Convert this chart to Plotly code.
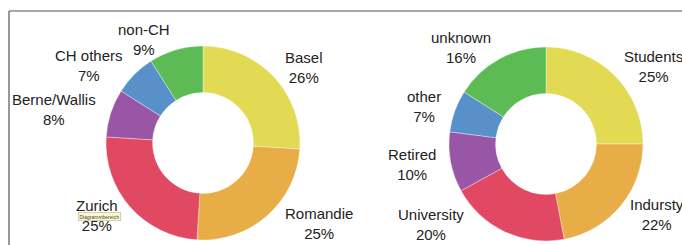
import math
import plotly.graph_objects as go

origin_labels = ["Basel", "Romandie", "Zurich", "Berne/Wallis", "CH others", "non-CH"]
origin_values = [26, 25, 25, 8, 7, 9]

occupation_labels = ["Students", "Indursty", "University", "Retired", "other", "unknown"]
occupation_values = [25, 22, 20, 10, 7, 16]

slice_colors = ["#E2DA52", "#E9AD48", "#E14862", "#9A56A6", "#5890CA", "#5CBB55"]

W, H = 682, 245
R = 97
FS = 15
FONT = "Liberation Sans, Arial, sans-serif"

# approximate Helvetica advance widths (per 1000 em) for estimating label widths
_CW = {"a": 556, "b": 556, "c": 500, "d": 556, "e": 556, "f": 278, "g": 556, "h": 556, "i": 222,
       "k": 500, "l": 222, "m": 833, "n": 556, "o": 556, "p": 556, "r": 333, "s": 500, "t": 278,
       "u": 556, "v": 500, "w": 722, "y": 500, "z": 500, "B": 667, "C": 722, "H": 722, "I": 278,
       "R": 722, "S": 667, "U": 722, "W": 944, "Z": 611, "/": 278, "-": 333, " ": 278, "%": 889}

def text_w(t):
    return sum(_CW.get(ch, 556) for ch in t) * FS / 1000

def px_domain(cx, cy, r):
    return dict(x=[(cx - r) / W, (cx + r) / W], y=[1 - (cy + r) / H, 1 - (cy - r) / H])

fig = go.Figure()
for labels, values, (cx, cy) in [
    (origin_labels, origin_values, (203, 143)),
    (occupation_labels, occupation_values, (546, 144)),
]:
    fig.add_trace(go.Pie(
        labels=labels, values=values, sort=False, direction="clockwise", rotation=0,
        hole=0.52, domain=px_domain(cx, cy, R),
        marker=dict(colors=slice_colors, line=dict(color="rgba(255,255,255,0.6)", width=0.6)),
        textinfo="none", showlegend=False, hoverinfo="skip",
    ))
    total = sum(values)
    cum = 0
    for lab, val in zip(labels, values):
        theta = 2 * math.pi * (cum + val / 2) / total
        cum += val
        s, c = math.sin(theta), math.cos(theta)
        pct = f"{round(100 * val / total)}%"
        dy = -110 * c
        dx = 110 * abs(s)
        if dy > 80:
            dy = 80
            dx = math.sqrt(113 ** 2 - dy ** 2)
        dy = max(dy, -103)
        w = max(text_w(lab), text_w(pct))
        if s > 0:
            ax = min(cx + dx, W - 1 - w)
            xa = "left"
        else:
            ax = max(cx - dx, 12 + w)
            xa = "right"
        fig.add_annotation(x=ax / W, y=1 - (cy + dy) / H, xref="paper", yref="paper",
                           text=f"{lab}<br>{pct}", showarrow=False,
                           xanchor=xa, yanchor="middle", align="center",
                           font=dict(family=FONT, size=FS, color="#222222"))

fig.add_shape(type="line", xref="paper", yref="paper", x0=9 / W, x1=1.01, y0=1 - 11 / H, y1=1 - 11 / H,
              line=dict(color="#555555", width=1.2))
fig.add_shape(type="line", xref="paper", yref="paper", x0=9 / W, x1=9 / W, y0=-0.02, y1=1 - 11 / H,
              line=dict(color="#555555", width=1.2))

fig.add_annotation(x=78 / W, y=1 - 220.5 / H, xref="paper", yref="paper", text="Diagrammbereich",
                   showarrow=False, font=dict(size=5, color="#444444", family=FONT),
                   bgcolor="#FBF7D0", bordercolor="#B0A880", borderwidth=0.5, borderpad=1)

fig.update_layout(width=W, height=H, margin=dict(l=0, r=0, t=0, b=0),
                  paper_bgcolor="white", plot_bgcolor="white")
fig.write_html("out.html", config={"displayModeBar": False},
               post_script="document.body.style.margin='0';")
